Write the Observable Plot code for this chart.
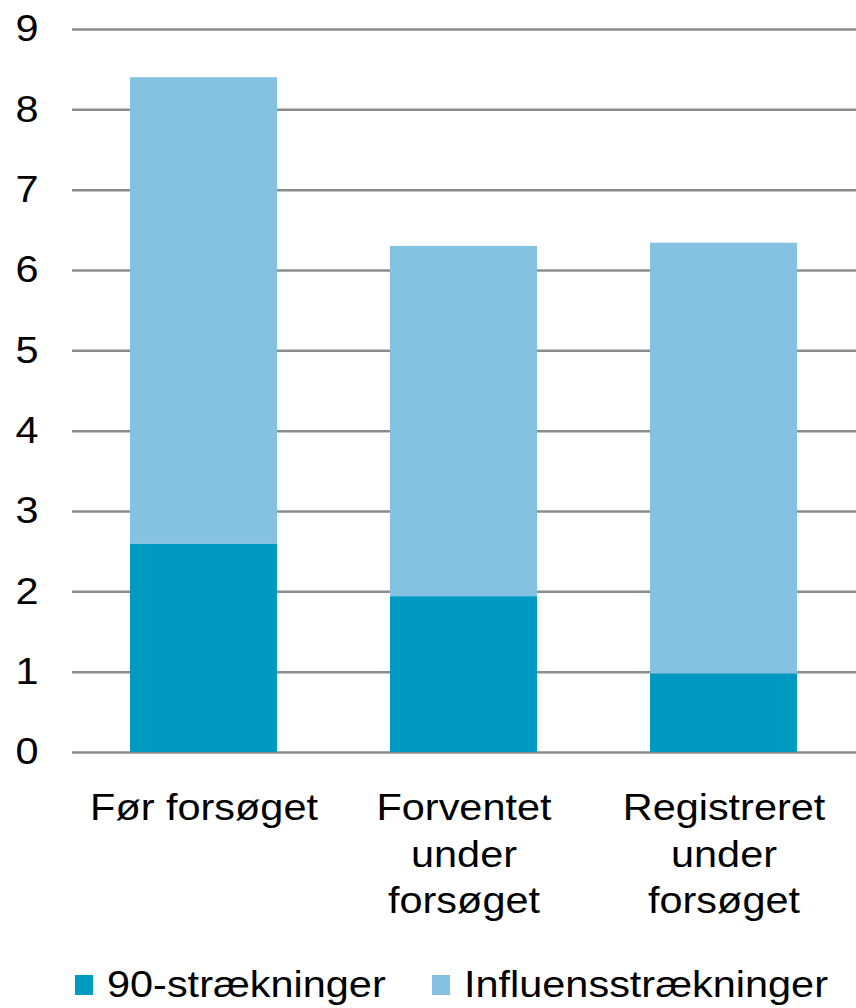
<!DOCTYPE html>
<html>
<head>
<meta charset="utf-8">
<script src="https://cdn.jsdelivr.net/npm/d3@7"></script>
<script src="https://cdn.jsdelivr.net/npm/@observablehq/plot@0.6"></script>
<style>
  body { margin: 0; background: #fff; font-family: "Liberation Sans", Arial, sans-serif; }
  #chart svg { display: block; }
  .lg-swatches { font-family: "Liberation Sans", Arial, sans-serif; font-size: 37px; color: #000;
    margin: 24px 0 0 75px; min-height: 0; display: flex; align-items: center; }
  .lg-swatch { display: inline-flex; align-items: center; }
  .lg-swatch > svg { margin-right: 14px; }
  .lg-label { display: inline-block; transform: scaleX(1.12); transform-origin: left center; }
</style>
</head>
<body>
<div id="chart"></div>
<script>
// --- data ---
const categories = ["Før forsøget", "Forventet under forsøget", "Registreret under forsøget"];
const tickLabels = ["Før forsøget", "Forventet\nunder\nforsøget", "Registreret\nunder\nforsøget"];
const seriesNames = ["90-strækninger", "Influensstrækninger"];
const values90 = [2.59, 1.94, 0.98];
const valuesInfluens = [5.81, 4.36, 5.36];
const yTicks = [0, 1, 2, 3, 4, 5, 6, 7, 8, 9];
const colors = ["#0099c2", "#85c2e2"];

const rows = categories.flatMap((c, i) => [
  {category: c, series: seriesNames[0], value: values90[i]},
  {category: c, series: seriesNames[1], value: valuesInfluens[i]}
]);

const font = '"Liberation Sans", Arial, sans-serif';

const plot = Plot.plot({
  width: 856,
  height: 940,
  marginTop: 29,
  marginBottom: 188,
  marginLeft: 72,
  marginRight: 0,
  style: {fontFamily: font, fontSize: "37px", color: "#000", background: "#fff"},
  x: {domain: categories, paddingInner: 0.433, paddingOuter: 0.222, label: null},
  y: {domain: [0, 9], label: null},
  color: {domain: seriesNames, range: colors},
  marks: [
    Plot.ruleY(yTicks, {stroke: "#8c8c8c", strokeWidth: 2.5}),
    Plot.barY(rows, {x: "category", y: "value", fill: "series"}),
    Plot.axisY(yTicks, {tickSize: 0, tickPadding: 34, fontSize: 37, label: null,
      tickFormat: d => String(d)}),
    Plot.axisX({tickSize: 0, tickPadding: 35, fontSize: 37, lineHeight: 1.25, label: null,
      tickFormat: d => tickLabels[categories.indexOf(d)]})
  ]
});

// horizontally widen glyphs to match the reference's stretched text
plot.querySelectorAll("text").forEach(t => {
  const tr = t.getAttribute("transform");
  if (tr) t.setAttribute("transform", tr + " scale(1.12,1)");
});

document.getElementById("chart").appendChild(plot);

const legend = Plot.legend({
  color: {domain: seriesNames, range: colors},
  legend: "swatches",
  swatchWidth: 18,
  swatchHeight: 20,
  className: "lg"
});
legend.querySelectorAll(".lg-swatch").forEach(sw => {
  Array.from(sw.childNodes).forEach(n => {
    if (n.nodeType === 3) {
      const s = document.createElement("span");
      s.className = "lg-label";
      s.textContent = n.textContent;
      sw.replaceChild(s, n);
    }
  });
});
document.getElementById("chart").appendChild(legend);

// place the second legend item where the reference has it
const items = legend.querySelectorAll(".lg-swatch");
if (items.length === 2) {
  const lab = items[0].querySelector(".lg-label");
  const end = lab.getBoundingClientRect().left + lab.offsetWidth;
  items[0].style.marginRight = (432 - end) + "px";
}
</script>
</body>
</html>
